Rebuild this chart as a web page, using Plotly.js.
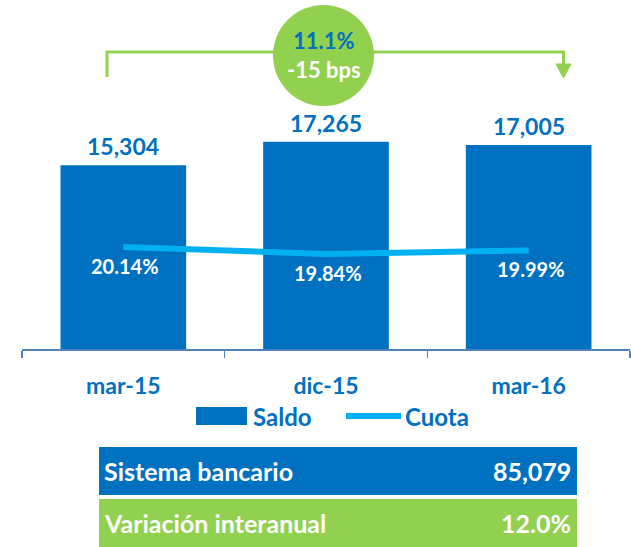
<!DOCTYPE html>
<html>
<head>
<meta charset="utf-8">
<script src="https://cdn.plot.ly/plotly-3.0.1.min.js"></script>
<style>html,body{margin:0;padding:0;background:#fff;}#chart{width:631px;height:547px;}</style>
</head>
<body>
<div id="chart"></div>
<script>
// ---- data ----
const categories = ["mar-15", "dic-15", "mar-16"];
const saldo = [15304, 17265, 17005];
const cuota = [20.14, 19.84, 19.99];
const saldoLabels = ["15,304", "17,265", "17,005"];
const cuotaLabels = ["20.14%", "19.84%", "19.99%"];
const growthText = "11.1%";
const bpsText = "-15 bps";
const tableLabels = ["Sistema bancario", "Variación interanual"];
const tableValues = ["85,079", "12.0%"];
const legendNames = ["Saldo", "Cuota"];

// ---- style ----
const BLUE = "#0070C0", CYAN = "#00B0F0", GREEN = "#92D050";
const FONT = "Lato, 'Open Sans', sans-serif";
const W = 631, H = 547, ML = 22, MR = 1, MT = 109, MB = 198;
const PW = W - ML - MR, PH = H - MT - MB;
const PX = x => (x - ML) / PW;
const PY = y => (H - MB - y) / PH;

const traces = [
  {type: "bar", x: categories, y: saldo, name: legendNames[0],
   marker: {color: BLUE}, hoverinfo: "skip"},
  {type: "scatter", mode: "lines", x: categories, y: cuota, yaxis: "y2",
   name: legendNames[1], line: {color: CYAN, width: 6}, hoverinfo: "skip"}
];

const annotations = [];
categories.forEach((c, i) => {
  annotations.push({x: c, y: saldo[i], xref: "x", yref: "y", text: "<b>" + saldoLabels[i] + "</b>",
    showarrow: false, yanchor: "middle", yshift: 19,
    font: {family: FONT, size: 23, color: BLUE}});
  annotations.push({x: c, y: cuota[i], xref: "x", yref: "y2", text: "<b>" + cuotaLabels[i] + "</b>",
    showarrow: false, yanchor: "middle", yshift: -19, xshift: 2,
    font: {family: FONT, size: 20, color: "#ffffff"}});
});

function paperText(x, y, text, size, color, xanchor) {
  annotations.push({x: PX(x), y: PY(y), xref: "paper", yref: "paper", xanchor: xanchor || "center",
    yanchor: "middle", text: "<b>" + text + "</b>", showarrow: false,
    font: {family: FONT, size: size, color: color}});
}

// circle texts (one two-line label)
paperText(324, 55, "<span style='color:" + BLUE + "'>" + growthText + "</span><br>" + bpsText, 22, "#ffffff");

// legend texts
paperText(251, 416, legendNames[0], 24, BLUE, "left");
paperText(403, 416, legendNames[1], 24, BLUE, "left");

// table texts
const rowTops = [447, 499], rowH = 48;
tableLabels.forEach((t, i) => {
  const cy = rowTops[i] + rowH / 2;
  paperText(102, cy, t, 25, "#ffffff", "left");
  paperText(573, cy, tableValues[i], 25, "#ffffff", "right");
});

const shapes = [
  // bracket
  {type: "path", xref: "paper", yref: "paper",
   path: `M ${PX(107)} ${PY(77)} L ${PX(107)} ${PY(52)} L ${PX(563.5)} ${PY(52)} L ${PX(563.5)} ${PY(65)}`,
   line: {color: GREEN, width: 3}},
  {type: "path", xref: "paper", yref: "paper",
   path: `M ${PX(556)} ${PY(64)} L ${PX(571)} ${PY(64)} L ${PX(563.5)} ${PY(78)} Z`,
   fillcolor: GREEN, line: {color: GREEN, width: 1}},
  // circle
  {type: "circle", xref: "paper", yref: "paper", x0: PX(273), x1: PX(374), y0: PY(106), y1: PY(5),
   fillcolor: GREEN, line: {width: 0}},
  // legend symbols
  {type: "rect", xref: "paper", yref: "paper", x0: PX(196), x1: PX(247), y0: PY(425), y1: PY(407),
   fillcolor: BLUE, line: {width: 0}},
  {type: "line", xref: "paper", yref: "paper", x0: PX(346), x1: PX(401), y0: PY(416), y1: PY(416),
   line: {color: CYAN, width: 6}},
  // table rows
  {type: "rect", xref: "paper", yref: "paper", x0: PX(99), x1: PX(577), y0: PY(rowTops[0] + rowH), y1: PY(rowTops[0]),
   fillcolor: BLUE, line: {width: 0}, layer: "below"},
  {type: "rect", xref: "paper", yref: "paper", x0: PX(99), x1: PX(577), y0: PY(rowTops[1] + rowH), y1: PY(rowTops[1]),
   fillcolor: GREEN, line: {width: 0}, layer: "below"}
];

const layout = {
  width: W, height: H,
  margin: {l: ML, r: MR, t: MT, b: MB, pad: 0},
  paper_bgcolor: "#ffffff", plot_bgcolor: "#ffffff",
  showlegend: false,
  bargap: 0.38,
  xaxis: {type: "category", showline: true, linecolor: "#4F81BD", linewidth: 1.5,
    ticks: "outside", tickson: "boundaries", ticklen: 7, tickcolor: "#4F81BD", tickwidth: 1.5,
    ticklabelstandoff: 16,
    tickfont: {family: FONT, size: 23, color: BLUE, weight: "bold"},
    showgrid: false, zeroline: false, fixedrange: true},
  yaxis: {range: [0, 20000], visible: false, showgrid: false, zeroline: false, fixedrange: true},
  yaxis2: {range: [15.76, 26.06], overlaying: "y", side: "right", visible: false,
    showgrid: false, zeroline: false, fixedrange: true},
  annotations: annotations,
  shapes: shapes
};

Plotly.newPlot("chart", traces, layout, {staticPlot: true, displayModeBar: false});
</script>
</body>
</html>
